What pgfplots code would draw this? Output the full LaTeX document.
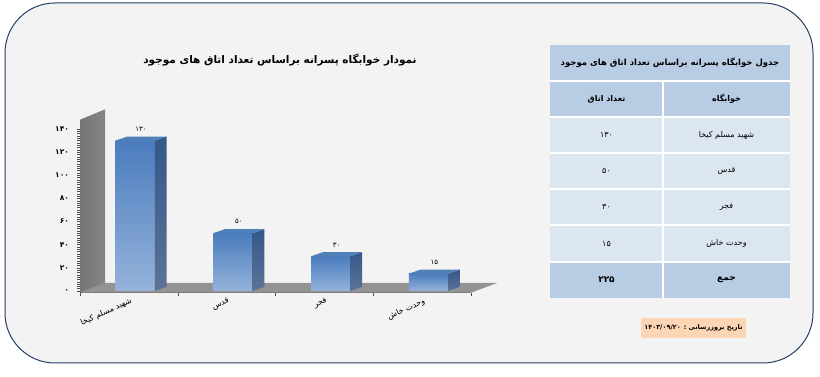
\documentclass[border=0pt]{standalone}
\usepackage{pgfplots}
\pgfplotsset{compat=1.18}
\usepackage{fontspec}
\setmainfont{DejaVu Sans}
\newfontfamily\arabicfont[Script=Arabic]{DejaVu Sans}
\TeXXeTstate=1
\definecolor{frame}{HTML}{243F60}
\definecolor{bg}{HTML}{F3F3F3}
\definecolor{hdr}{HTML}{B8CCE4}
\definecolor{cell}{HTML}{DCE6F1}
\definecolor{peach}{HTML}{FCD5B4}
\definecolor{ftop}{HTML}{4A7CBE}
\definecolor{fmid}{HTML}{5B92DA}
\definecolor{fbot}{HTML}{95B3DA}
\definecolor{stop}{HTML}{35588A}
\definecolor{sbot}{HTML}{5C7396}
\definecolor{ttop}{HTML}{5080B8}
\definecolor{wallc}{HTML}{7F7F7F}
\definecolor{floorc}{HTML}{939393}
\begin{document}
\begin{tikzpicture}
\useasboundingbox (0,0) rectangle (820pt,377pt);
\fill[white] (0,0) rectangle (820pt,377pt);
\draw[frame, line width=1pt, fill=bg, rounded corners=50pt] (5pt,14pt) rectangle (813pt,374pt);

% chart title
\node[font=\arabicfont\bfseries\fontsize{10.5}{12}\selectfont] at (280pt,317pt) {\beginR نمودار خوابگاه پسرانه براساس تعداد اتاق های موجود\endR};

\begin{axis}[at={(80pt,84.3pt)}, anchor=south west, scale only axis,
  width=391pt, height=163.7pt,
  xmin=0, xmax=4, ymin=-1.5, ymax=140, clip=false,
  axis x line*=bottom, axis y line*=left,
  axis line style={draw=gray!70!black, line width=0.4pt, -},
  tick style={draw=gray!60!black, line width=0.4pt},
  tick align=outside, major tick length=3.5pt, minor tick length=3pt,
  ytick={0,20,...,140},
  yticklabels={۰,۲۰,۴۰,۶۰,۸۰,۱۰۰,۱۲۰,۱۴۰},
  minor y tick num=9,
  yticklabel style={font=\arabicfont\bfseries\fontsize{7.5}{8}\selectfont, xshift=-4pt},
  xtick={0,1,2,3,4}, xticklabels={},
  extra x ticks={0.5,1.5,2.5,3.5},
  extra x tick labels={{\beginR شهید مسلم کیخا\endR},{\beginR قدس\endR},{\beginR فجر\endR},{\beginR وحدت خاش\endR}},
  extra x tick style={major tick length=0pt},
  xticklabel style={rotate=25, anchor=north east, font=\arabicfont\fontsize{8}{9}\selectfont, inner sep=1pt, yshift=-3pt},
]
% floor and back wall
\addplot[draw=none, fill=floorc] coordinates {(0,-1.5) (4,-1.5) (4.27,7) (0.256,7)} --cycle;
\addplot[draw=none, left color=wallc!92!black, right color=wallc!95!white] coordinates {(0,-1.5) (0.256,7) (0.256,157) (0,148)} --cycle;
% bar 1: 130
\addplot[draw=none, top color=ftop, middle color=fmid, bottom color=fbot] coordinates {(0.365,0) (0.765,0) (0.765,130) (0.365,130)} --cycle;
\addplot[draw=none, top color=stop, bottom color=sbot] coordinates {(0.765,0) (0.885,3.5) (0.885,133.5) (0.765,130)} --cycle;
\addplot[draw=none, fill=ttop] coordinates {(0.365,130) (0.765,130) (0.885,133.5) (0.485,133.5)} --cycle;
% bar 2: 50
\addplot[draw=none, top color=ftop, middle color=fmid, bottom color=fbot] coordinates {(1.365,0) (1.765,0) (1.765,50) (1.365,50)} --cycle;
\addplot[draw=none, top color=stop, bottom color=sbot] coordinates {(1.765,0) (1.885,3.5) (1.885,53.5) (1.765,50)} --cycle;
\addplot[draw=none, fill=ttop] coordinates {(1.365,50) (1.765,50) (1.885,53.5) (1.485,53.5)} --cycle;
% bar 3: 30
\addplot[draw=none, top color=ftop, middle color=fmid, bottom color=fbot] coordinates {(2.365,0) (2.765,0) (2.765,30) (2.365,30)} --cycle;
\addplot[draw=none, top color=stop, bottom color=sbot] coordinates {(2.765,0) (2.885,3.5) (2.885,33.5) (2.765,30)} --cycle;
\addplot[draw=none, fill=ttop] coordinates {(2.365,30) (2.765,30) (2.885,33.5) (2.485,33.5)} --cycle;
% bar 4: 15
\addplot[draw=none, top color=ftop, middle color=fmid, bottom color=fbot] coordinates {(3.365,0) (3.765,0) (3.765,15) (3.365,15)} --cycle;
\addplot[draw=none, top color=stop, bottom color=sbot] coordinates {(3.765,0) (3.885,3.5) (3.885,18.5) (3.765,15)} --cycle;
\addplot[draw=none, fill=ttop] coordinates {(3.365,15) (3.765,15) (3.885,18.5) (3.485,18.5)} --cycle;
% value labels
\addplot[draw=none, mark=none, nodes near coords, point meta=explicit symbolic,
  nodes near coords style={font=\arabicfont\fontsize{7}{8}\selectfont, anchor=south, inner sep=0pt, yshift=9pt}]
  coordinates {(0.625,130) [۱۳۰] (1.625,50) [۵۰] (2.625,30) [۳۰] (3.625,15) [۱۵]};
\end{axis}

% table
\fill[hdr] (550pt,332pt) rectangle (790pt,260pt);
\fill[cell] (550pt,260pt) rectangle (790pt,115pt);
\fill[hdr] (550pt,115pt) rectangle (790pt,79pt);
\foreach \y in {296,260,224,188,152,115} {\draw[white, line width=1.2pt] (550pt,\y pt) -- (790pt,\y pt);}
\draw[white, line width=1.2pt] (663pt,296pt) -- (663pt,79pt);
\node[font=\arabicfont\bfseries\fontsize{8.5}{10}\selectfont] at (670pt,314pt) {\beginR جدول خوابگاه پسرانه براساس تعداد اتاق های موجود\endR};
\node[font=\arabicfont\bfseries\fontsize{8}{10}\selectfont] at (606.5pt,278pt) {\beginR تعداد اتاق\endR};
\node[font=\arabicfont\bfseries\fontsize{8}{10}\selectfont] at (726.5pt,278pt) {\beginR خوابگاه\endR};
\node[font=\arabicfont\fontsize{8}{10}\selectfont] at (606.5pt,242pt) {۱۳۰};
\node[font=\arabicfont\fontsize{8}{10}\selectfont] at (726.5pt,242pt) {\beginR شهید مسلم کیخا\endR};
\node[font=\arabicfont\fontsize{8}{10}\selectfont] at (606.5pt,206pt) {۵۰};
\node[font=\arabicfont\fontsize{8}{10}\selectfont] at (726.5pt,206pt) {\beginR قدس\endR};
\node[font=\arabicfont\fontsize{8}{10}\selectfont] at (606.5pt,170pt) {۳۰};
\node[font=\arabicfont\fontsize{8}{10}\selectfont] at (726.5pt,170pt) {\beginR فجر\endR};
\node[font=\arabicfont\fontsize{8}{10}\selectfont] at (606.5pt,133.5pt) {۱۵};
\node[font=\arabicfont\fontsize{8}{10}\selectfont] at (726.5pt,133.5pt) {\beginR وحدت خاش\endR};
\node[font=\arabicfont\bfseries\fontsize{9}{10}\selectfont] at (606.5pt,97pt) {۲۲۵};
\node[font=\arabicfont\bfseries\fontsize{9}{10}\selectfont] at (726.5pt,97pt) {\beginR جمع\endR};

% date box
\fill[peach] (641pt,59pt) rectangle (746pt,39pt);
\node[font=\arabicfont\bfseries\fontsize{6.5}{8}\selectfont] at (693.5pt,49pt) {\beginR تاریخ بروزرسانی : \beginL ۱۴۰۳/۰۹/۲۰\endL\endR};
\end{tikzpicture}
\end{document}
